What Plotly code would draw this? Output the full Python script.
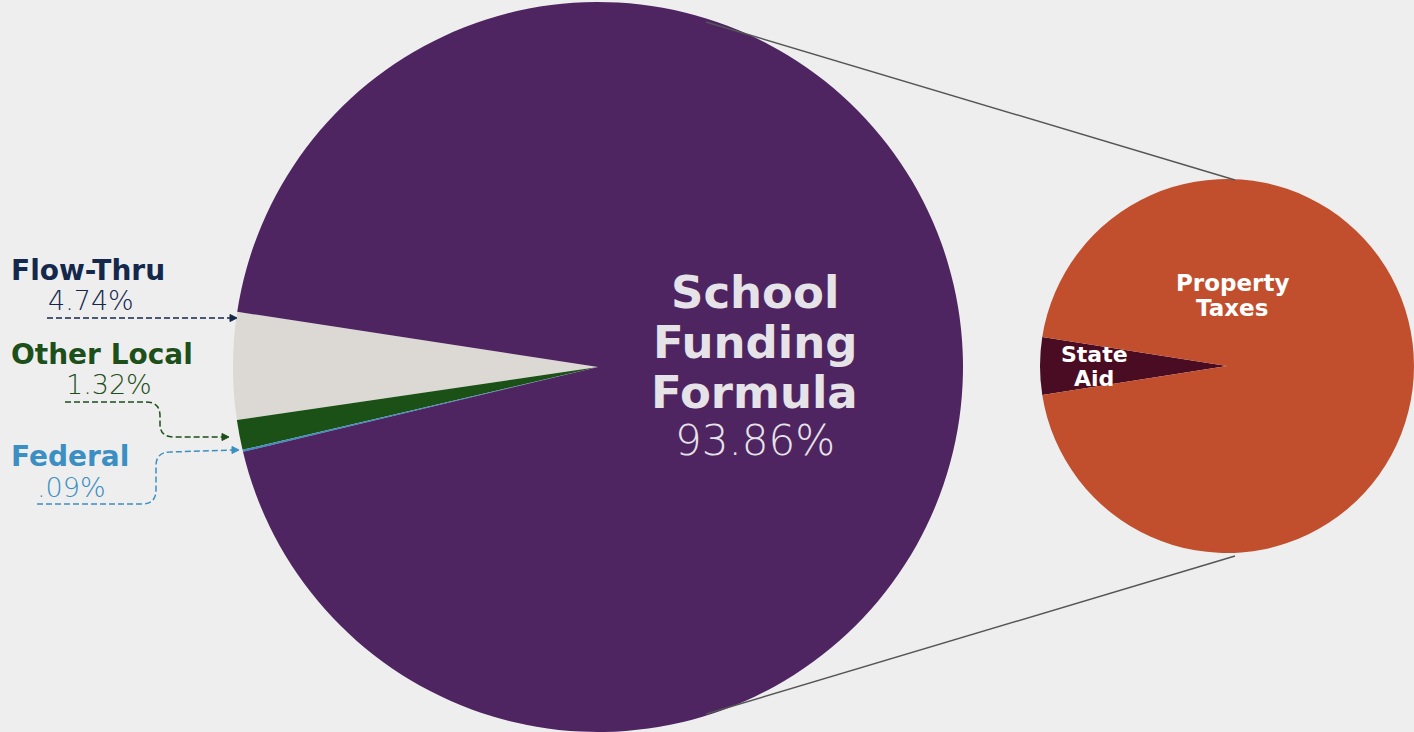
import plotly.graph_objects as go

W, H = 1414, 732

# ---- data ----
main_labels = ["Flow-Thru", "Other Local", "Federal", "School Funding Formula"]
main_values = [4.74, 1.32, 0.09, 93.86]
main_colors = ["#dcd9d4", "#1b5116", "#3b8fc3", "#4e2561"]

sub_labels = ["State Aid", "Property Taxes"]
sub_values = [4.95, 95.05]
sub_colors = ["#4a0c22", "#c14f2e"]

left_pct = ["4.74%", "1.32%", ".09%"]
main_pct = "93.86%"


def px(x):
    return x / W


def py(y):
    return 1 - y / H


def path(pts_cmds):
    out = []
    for c in pts_cmds:
        if isinstance(c, str):
            out.append(c)
        else:
            out.append(f"{px(c[0]):.5f},{py(c[1]):.5f}")
    return " ".join(out)


def rot(start_deg, values):
    # plotly: first slice ends at the rotation angle (clockwise from 12 o'clock)
    first = values[0] / sum(values) * 360
    return 90 - start_deg - first


fig = go.Figure()

fig.add_trace(go.Pie(
    labels=main_labels, values=main_values, sort=False,
    direction="counterclockwise", rotation=rot(171.3, main_values),
    marker=dict(colors=main_colors, line=dict(width=0)),
    textinfo="none", hoverinfo="label+percent", showlegend=False,
    domain=dict(x=[px(233), px(963)], y=[py(732), py(2)]),
))

fig.add_trace(go.Pie(
    labels=sub_labels, values=sub_values, sort=False,
    direction="counterclockwise", rotation=rot(171.1, sub_values),
    marker=dict(colors=sub_colors, line=dict(width=0)),
    textinfo="none", hoverinfo="label+percent", showlegend=False,
    domain=dict(x=[px(1040), px(1414)], y=[py(553), py(179)]),
))

shapes = []
# connector lines
shapes.append(dict(type="line", xref="paper", yref="paper",
                   x0=px(706), y0=py(22), x1=px(1235), y1=py(180),
                   line=dict(color="#555555", width=1.5)))
shapes.append(dict(type="line", xref="paper", yref="paper",
                   x0=px(706), y0=py(714), x1=px(1235), y1=py(556),
                   line=dict(color="#555555", width=1.5)))

# dashed leaders
navy, green, blue = "#14284b", "#1d4f1b", "#3b8fc3"
dash = "6px,3px"
shapes.append(dict(type="path", xref="paper", yref="paper",
                   path=path(["M", (47, 318), "L", (231, 318)]),
                   line=dict(color=navy, width=1.5, dash=dash)))
shapes.append(dict(type="path", xref="paper", yref="paper",
                   path=path(["M", (65, 402), "L", (146, 402), "Q", (160, 402), (160, 416),
                              "L", (160, 424), "Q", (160, 437), (174, 437), "L", (223, 437)]),
                   line=dict(color=green, width=1.5, dash=dash)))
shapes.append(dict(type="path", xref="paper", yref="paper",
                   path=path(["M", (37, 504), "L", (142, 504), "Q", (156, 504), (156, 490),
                              "L", (156, 466), "Q", (156, 452), (170, 452), "L", (233, 450)]),
                   line=dict(color=blue, width=1.5, dash=dash)))
# arrowheads
for (x, y, c) in [(237, 318, navy), (229, 437, green), (239, 450, blue)]:
    shapes.append(dict(type="path", xref="paper", yref="paper",
                       path=path(["M", (x, y), "L", (x - 7, y - 3.5), "L", (x - 7, y + 3.5), "Z"]),
                       fillcolor=c, line=dict(color=c, width=1)))

ann = []
FONT = "DejaVu Sans"


def txt(x, y, s, size, color, weight=700, anchor="center"):
    ann.append(dict(x=px(x), y=py(y), xref="paper", yref="paper", text=s,
                    showarrow=False, xanchor=anchor, yanchor="middle",
                    font=dict(family=FONT, size=size, color=color, weight=weight)))


light = "#e6e3e8"
txt(755, 292, "School", 45, light)
txt(755, 342, "Funding", 45, light)
txt(755, 392, "Formula", 45, light)
txt(755, 440, main_pct, 42, light, weight=200)

txt(1232, 283, "Property", 23, "#ffffff")
txt(1232, 308, "Taxes", 23, "#ffffff")
txt(1094, 354, "State", 22, "#ffffff")
txt(1094, 378, "Aid", 22, "#ffffff")

txt(9, 270, main_labels[0], 28, navy, anchor="left")
txt(46, 300, left_pct[0], 27, navy, weight=200, anchor="left")
txt(9, 354, main_labels[1], 28, green, anchor="left")
txt(64, 384, left_pct[1], 27, green, weight=200, anchor="left")
txt(9, 456, main_labels[2], 28, blue, anchor="left")
txt(35, 487, left_pct[2], 27, blue, weight=200, anchor="left")

fig.update_layout(
    width=W, height=H, margin=dict(l=0, r=0, t=0, b=0),
    paper_bgcolor="#eeeeee", plot_bgcolor="#eeeeee",
    shapes=shapes, annotations=ann, showlegend=False,
)

fig.write_html("out.html", config={"displayModeBar": False},
               post_script="document.body.style.margin='0';document.body.style.background='#eeeeee';")
